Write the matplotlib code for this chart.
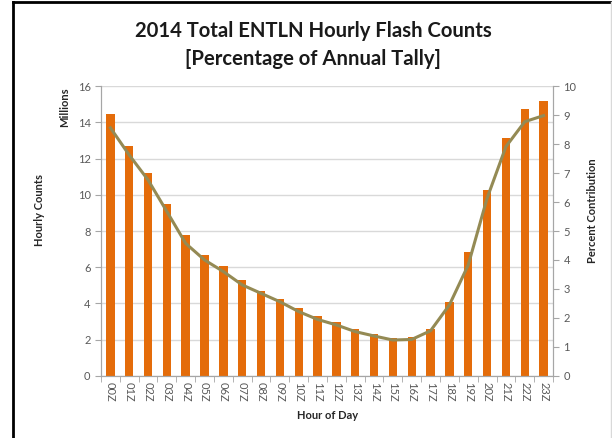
import matplotlib.pyplot as plt
import numpy as np
from matplotlib.lines import Line2D

plt.rcParams['font.family'] = ['Lato', 'DejaVu Sans']

hours = ['00Z', '01Z', '02Z', '03Z', '04Z', '05Z', '06Z', '07Z', '08Z', '09Z', '10Z', '11Z',
         '12Z', '13Z', '14Z', '15Z', '16Z', '17Z', '18Z', '19Z', '20Z', '21Z', '22Z', '23Z']
# hourly flash counts, millions
counts = [14.44, 12.69, 11.2, 9.49, 7.8, 6.68, 6.07, 5.28, 4.71, 4.23, 3.75, 3.31,
          2.98, 2.58, 2.32, 2.1, 2.13, 2.58, 4.1, 6.84, 10.26, 13.15, 14.73, 15.17]
# percent contribution of annual tally
percent = [8.56, 7.62, 6.76, 5.67, 4.57, 4.0, 3.6, 3.14, 2.85, 2.56, 2.22, 1.95,
           1.76, 1.53, 1.38, 1.24, 1.26, 1.56, 2.45, 3.83, 6.13, 7.91, 8.77, 8.98]

orange = '#E46C0A'
olive = '#948A54'
txt = '#595959'
grid = '#D9D9D9'

fig = plt.figure(figsize=(6.12, 4.38), dpi=100)
ax = fig.add_axes([0.165, 0.1416, 0.7386, 0.662])

x = np.arange(len(hours))
ax.bar(x, counts, width=0.45, color=orange, zorder=2)
ax.set_xlim(-0.5, 23.5)
ax.set_ylim(0, 16)
ax.set_yticks(range(0, 17, 2))
ax.yaxis.grid(True, color=grid, linewidth=1, zorder=0)
ax.set_axisbelow(True)

ax.set_xticks(x)
ax.set_xticklabels(hours, rotation=-90, fontsize=8, color=txt)
ax.set_xticks(np.arange(-0.5, 24, 1), minor=True)
ax.tick_params(axis='x', which='major', length=0, pad=4)
ax.tick_params(axis='x', which='minor', length=4, color='#A6A6A6', direction='out')
ax.tick_params(axis='y', labelsize=8, labelcolor=txt, length=4, color='#A6A6A6', direction='out')

for s in ['left', 'bottom', 'right']:
    ax.spines[s].set_color('#A6A6A6')
ax.spines['top'].set_visible(False)

ax2 = ax.twinx()
ax2.plot(x, percent, color=olive, linewidth=2.2, zorder=3)
ax2.set_ylim(0, 10)
ax2.set_yticks(range(0, 11))
ax2.tick_params(axis='y', labelsize=8, labelcolor=txt, length=4, color='#A6A6A6', direction='out')
for s in ['left', 'bottom', 'right']:
    ax2.spines[s].set_color('#A6A6A6')
ax2.spines['top'].set_visible(False)

fig.text(0.512, 0.93, '2014 Total ENTLN Hourly Flash Counts', ha='center', va='center',
         fontsize=14.6, fontweight='bold', color='#1a1a1a')
fig.text(0.512, 0.866, '[Percentage of Annual Tally]', ha='center', va='center',
         fontsize=14.6, fontweight='bold', color='#1a1a1a')

fig.text(0.065, 0.52, 'Hourly Counts', rotation=90, ha='center', va='center',
         fontsize=8, fontweight='bold', color='#262626')
fig.text(0.105, 0.755, 'Millions', rotation=90, ha='center', va='center',
         fontsize=8, fontweight='bold', color='#262626')
fig.text(0.968, 0.52, 'Percent Contribution', rotation=90, ha='center', va='center',
         fontsize=8, fontweight='bold', color='#262626')
fig.text(0.535, 0.052, 'Hour of Day', ha='center', va='center',
         fontsize=8, fontweight='bold', color='#262626')

# chart frame
fig.add_artist(Line2D([0.022, 0.022], [0, 0.996], color='black', linewidth=2, transform=fig.transFigure))
fig.add_artist(Line2D([0.022, 1], [0.996, 0.996], color='black', linewidth=2, transform=fig.transFigure))
fig.add_artist(Line2D([0.998, 0.998], [0, 0.996], color='#D9D9D9', linewidth=1, transform=fig.transFigure))

fig.savefig('out.png', dpi=100)
